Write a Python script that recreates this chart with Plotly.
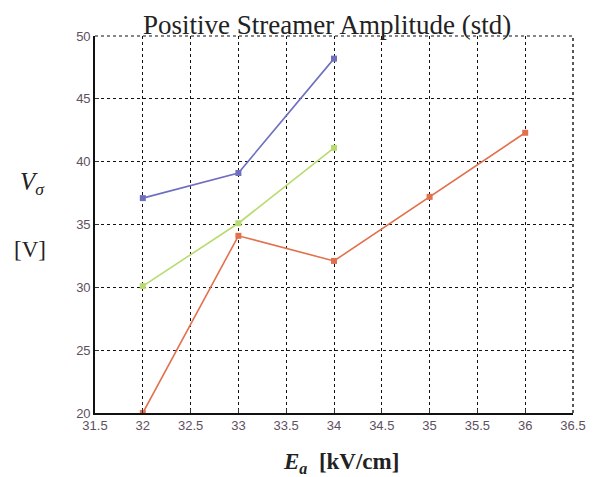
import plotly.graph_objects as go

# Field strength (kV/cm) and standard deviation of streamer amplitude (V)
field_blue = [32, 33, 34]
std_blue = [37.1, 39.1, 48.2]

field_green = [32, 33, 34]
std_green = [30.1, 35.1, 41.1]

field_red = [32, 33, 34, 35, 36]
std_red = [20.0, 34.1, 32.1, 37.2, 42.3]

x_ticks = [31.5, 32, 32.5, 33, 33.5, 34, 34.5, 35, 35.5, 36, 36.5]
y_ticks = [20, 25, 30, 35, 40, 45, 50]

fig = go.Figure()

series = [
    (field_blue, std_blue, "#6f6fc0"),
    (field_green, std_green, "#b8db6e"),
    (field_red, std_red, "#e2714e"),
]
for xs, ys, col in series:
    fig.add_trace(go.Scatter(
        x=xs, y=ys, mode="lines+markers",
        line=dict(color=col, width=1.6),
        marker=dict(color=col, size=6, symbol="square"),
        showlegend=False,
    ))

axis_font = dict(family="Liberation Sans, Arial", size=13, color="#5e5060")

fig.update_xaxes(
    range=[31.5, 36.5], tickvals=x_ticks,
    ticktext=[f"{v:g}" for v in x_ticks],
    showgrid=True, gridcolor="#111", griddash="dot", gridwidth=1.4,
    showline=True, linecolor="#111", linewidth=1.6, mirror=False,
    ticks="inside", ticklen=4, tickcolor="#333",
    tickfont=axis_font, zeroline=False, automargin=False,
)
fig.update_yaxes(
    range=[20, 50], tickvals=y_ticks,
    showgrid=True, gridcolor="#111", griddash="dot", gridwidth=1.4,
    showline=True, linecolor="#111", linewidth=1.6, mirror=False,
    ticks="inside", ticklen=4, tickcolor="#333",
    tickfont=axis_font, zeroline=False, automargin=False,
)

# dotted frame on top and right
fig.add_shape(type="line", xref="paper", yref="paper", x0=0, x1=1, y0=1, y1=1,
              line=dict(color="#111", width=1.2, dash="dot"))
fig.add_shape(type="line", xref="paper", yref="paper", x0=1, x1=1, y0=0, y1=1,
              line=dict(color="#111", width=1.4, dash="dot"))

serif = "Liberation Serif, Times New Roman, serif"
fig.add_annotation(text="Positive Streamer Amplitude (std)", xref="paper", yref="paper",
                   x=0.485, y=1.0, yshift=-6, xanchor="center", yanchor="bottom",
                   showarrow=False, font=dict(family=serif, size=27, color="#222"))
fig.add_annotation(text="<i>V</i><sub><i>σ</i></sub>", xref="paper", yref="paper",
                   x=-0.13, y=0.61, xanchor="center", yanchor="middle",
                   showarrow=False, font=dict(family=serif, size=25, color="#222"))
fig.add_annotation(text="[V]", xref="paper", yref="paper",
                   x=-0.135, y=0.435, xanchor="center", yanchor="middle",
                   showarrow=False, font=dict(family=serif, size=23, color="#222"))
fig.add_annotation(text="<b><i>E</i><sub><i>a</i></sub>  [kV/cm]</b>", xref="paper", yref="paper",
                   x=0.515, y=0, yshift=-34, xanchor="center", yanchor="top",
                   showarrow=False, font=dict(family=serif, size=23, color="#222"))

fig.update_layout(
    width=595, height=477,
    margin=dict(l=95, r=22, t=36, b=64),
    paper_bgcolor="white", plot_bgcolor="white",
)

fig.write_html("out.html")
